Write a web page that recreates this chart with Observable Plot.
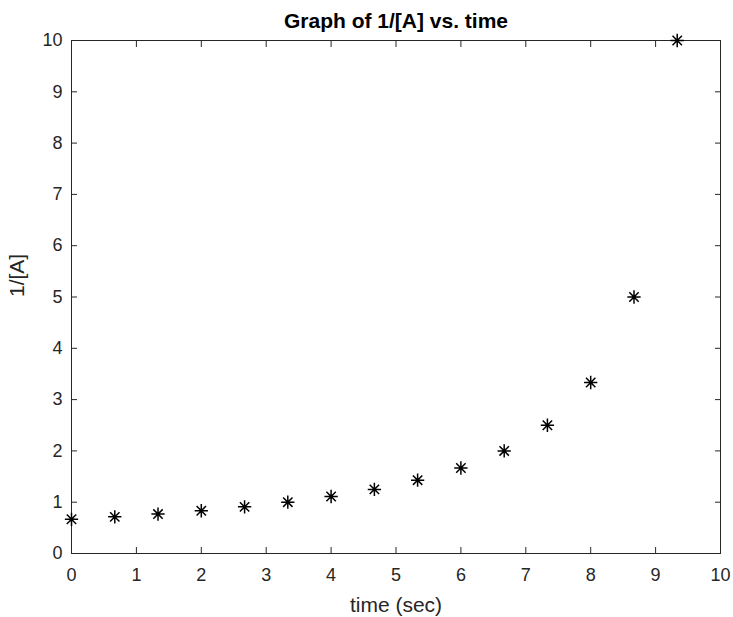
<!DOCTYPE html>
<html>
<head>
<meta charset="utf-8">
<script src="https://cdn.jsdelivr.net/npm/d3@7"></script>
<script src="https://cdn.jsdelivr.net/npm/@observablehq/plot@0.6"></script>
<style>
  html, body { margin: 0; padding: 0; background: #fff; }
  svg { display: block; }
</style>
</head>
<body>
<div id="chart"></div>
<script>
const time = [0, 0.667, 1.333, 2, 2.667, 3.333, 4, 4.667, 5.333, 6, 6.667, 7.333, 8, 8.667, 9.333];
const invA = [0.667, 0.714, 0.769, 0.833, 0.909, 1.0, 1.111, 1.25, 1.429, 1.667, 2.0, 2.5, 3.333, 5.0, 10.0];
const xTicks = [0, 1, 2, 3, 4, 5, 6, 7, 8, 9, 10];
const yTicks = [0, 1, 2, 3, 4, 5, 6, 7, 8, 9, 10];
const titleText = "Graph of 1/[A] vs. time";
const xLabel = "time (sec)";
const yLabel = "1/[A]";

const data = time.map((t, i) => ({t, v: invA[i]}));

// MATLAB-style '*' marker: plus + cross (8 arms)
const star = {
  draw(ctx, size) {
    const r = Math.sqrt(size) / 2;
    const d = r * Math.SQRT1_2;
    ctx.moveTo(-r, 0); ctx.lineTo(r, 0);
    ctx.moveTo(0, -r); ctx.lineTo(0, r);
    ctx.moveTo(-d, -d); ctx.lineTo(d, d);
    ctx.moveTo(-d, d); ctx.lineTo(d, -d);
  }
};

const ink = "#262626";
const font = "Liberation Sans, Arial, Helvetica, sans-serif";
const noLabel = () => "";
const plain = d => String(d);

const plot = Plot.plot({
  width: 733,
  height: 617,
  marginLeft: 71,
  marginRight: 13,
  marginTop: 40,
  marginBottom: 64,
  style: { fontFamily: font, fontSize: "18px", color: ink, background: "#fff" },
  x: { domain: [0, 10] },
  y: { domain: [0, 10] },
  marks: [
    Plot.frame({ stroke: ink, strokeWidth: 1 }),
    Plot.axisX(xTicks, { anchor: "bottom", tickSize: -6, tickPadding: 21, tickFormat: plain, fontSize: 18, label: null, stroke: ink, fill: ink }),
    Plot.axisX(xTicks, { anchor: "top", tickSize: -6, tickFormat: noLabel, label: null, stroke: ink }),
    Plot.axisY(yTicks, { anchor: "left", tickSize: -6, tickPadding: 15, tickFormat: plain, fontSize: 18, label: null, stroke: ink, fill: ink }),
    Plot.axisY(yTicks, { anchor: "right", tickSize: -6, tickFormat: noLabel, label: null, stroke: ink }),
    Plot.text([titleText], { frameAnchor: "top", lineAnchor: "middle", dy: -19, fontSize: 21, fontWeight: "bold", fill: "#000", text: d => d }),
    Plot.text([xLabel], { frameAnchor: "bottom", lineAnchor: "middle", dy: 52, fontSize: 21, fill: ink, text: d => d }),
    Plot.text([yLabel], { frameAnchor: "left", lineAnchor: "middle", dx: -54, rotate: -90, fontSize: 21, fill: ink, text: d => d }),
    Plot.dot(data, { x: "t", y: "v", symbol: star, r: 7.5, stroke: "#000", strokeWidth: 1.5, fill: "none" })
  ]
});
document.getElementById("chart").append(plot);
</script>
</body>
</html>
